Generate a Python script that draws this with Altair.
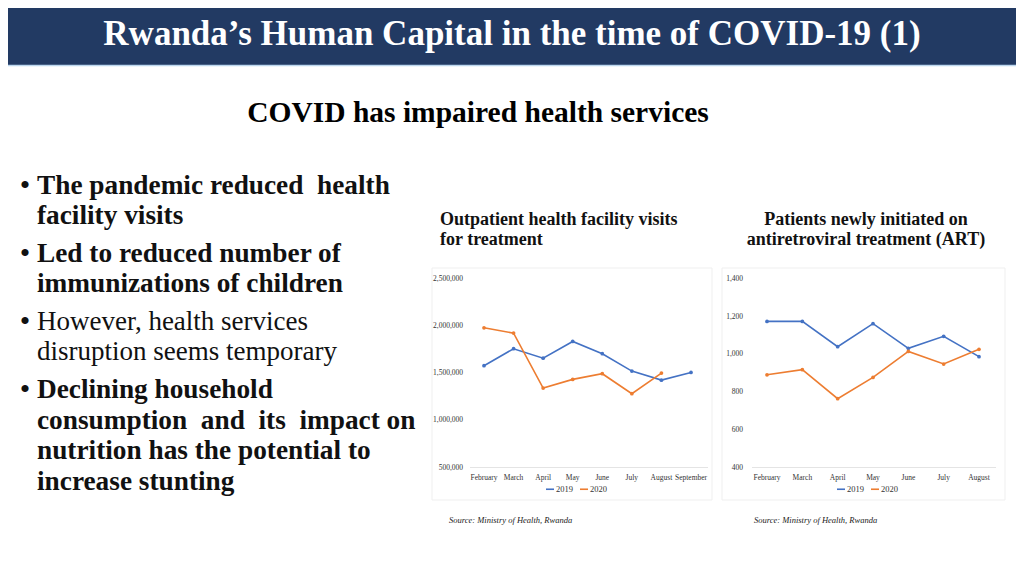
import altair as alt
import pandas as pd

# ---------------- data ----------------
months1 = ["February", "March", "April", "May", "June", "July", "August", "September"]
visits_2019 = [1580000, 1760000, 1660000, 1837000, 1707000, 1523000, 1427000, 1509000]
visits_2020 = [1982000, 1926000, 1343000, 1435000, 1495000, 1283000, 1502000]
visits_ticks = [500000, 1000000, 1500000, 2000000, 2500000]

months2 = ["February", "March", "April", "May", "June", "July", "August"]
art_2019 = [1175, 1175, 1041, 1163, 1032, 1096, 988]
art_2020 = [892, 919, 765, 878, 1016, 949, 1027]
art_ticks = [400, 600, 800, 1000, 1200, 1400]

years = ["2019", "2020"]
colors = ["#4472C4", "#ED7D31"]

title_text = "Rwanda\u2019s Human Capital in the time of COVID-19 (1)"
subtitle_text = "COVID has impaired health services"
bullet_text = [
    "The pandemic reduced\u00a0 health", "facility visits",
    "Led to reduced number of", "immunizations of children",
    "However, health services", "disruption seems temporary",
    "Declining household", "consumption\u00a0 and\u00a0 its\u00a0 impact on",
    "nutrition has the potential to", "increase stunting",
]
bullet_bold = [True, True, True, True, False, False, True, True, True, True]
bullet_first = [True, False, True, False, True, False, True, False, False, False]
chart1_title = ["Outpatient health facility visits", "for treatment"]
chart2_title = ["Patients newly initiated on", "antiretroviral treatment (ART)"]
source_text = "Source: Ministry of Health, Rwanda"

FONT = "Liberation Serif"
W, H = 1008, 560
bullet_y = [178, 208, 246, 276, 314, 344, 382, 413, 443, 474]


def txt(text, x, y, **kw):
    return alt.Chart(pd.DataFrame({"t": [text]})).mark_text(
        font=FONT, baseline="middle", **kw
    ).encode(text="t:N", x=alt.value(x), y=alt.value(y))


dummy = pd.DataFrame({"a": [0]})

# ---------------- decorations ----------------
deco = [
    alt.Chart(dummy).mark_rect(color="#223A63").encode(
        x=alt.value(0), x2=alt.value(W), y=alt.value(0), y2=alt.value(57)),
    alt.Chart(dummy).mark_rule(color="#BDD7EE", strokeWidth=1.5).encode(
        x=alt.value(0), x2=alt.value(W), y=alt.value(57.5)),
    txt(title_text, 504, 26, fontSize=35, fontWeight="bold", color="white", align="center"),
    txt(subtitle_text, 470, 105, fontSize=29.5, fontWeight="bold", color="black", align="center"),
]
for t, b, f, y in zip(bullet_text, bullet_bold, bullet_first, bullet_y):
    deco.append(txt(t, 29, y, fontSize=27.3 if b else 27, fontWeight="bold" if b else "normal",
                    color="#111111", align="left"))
    if f:
        deco.append(txt("\u2022", 17, y, fontSize=30, color="#111111", align="center"))
for i, t in enumerate(chart1_title):
    deco.append(txt(t, 432, 212 + 20 * i, fontSize=18, fontWeight="bold", color="#111111", align="left"))
for i, t in enumerate(chart2_title):
    deco.append(txt(t, 858, 212 + 20 * i, fontSize=18, fontWeight="bold", color="#111111", align="center"))
for x in (441, 746):
    deco.append(txt(source_text, x, 512, fontSize=8.5, fontStyle="italic", color="#222222", align="left"))
for x0, x1 in ((424, 704), (714, 997)):
    deco.append(alt.Chart(dummy).mark_rect(fill="white", stroke="#EFEFEF", strokeWidth=1).encode(
        x=alt.value(x0), x2=alt.value(x1), y=alt.value(260), y2=alt.value(492)))


# ---------------- charts ----------------
def line_panel(months, s19, s20, ticks, ydom, xr, label_x, base_x, legend_x):
    rows = [(m, v, "2019") for m, v in zip(months, s19)] + [(m, v, "2020") for m, v in zip(months, s20)]
    df = pd.DataFrame(rows, columns=["month", "value", "year"])
    xs = alt.Scale(type="point", domain=months, range=xr, padding=0)
    ys = alt.Scale(domain=ydom, range=[459.5, 271], zero=False, nice=False)
    lines = alt.Chart(df).mark_line(
        strokeWidth=1.6, point=alt.OverlayMarkDef(filled=True, size=14)
    ).encode(
        x=alt.X("month:N", scale=xs, axis=None, sort=months),
        y=alt.Y("value:Q", scale=ys, axis=None),
        color=alt.Color(
            "year:N",
            scale=alt.Scale(domain=years, range=colors),
            legend=alt.Legend(
                orient="none", legendX=legend_x, legendY=476, direction="horizontal", title=None,
                symbolType="stroke", symbolSize=64, symbolStrokeWidth=1.6,
                labelFont=FONT, labelFontSize=8.5, labelColor="#333333", columnPadding=3,
                labelOffset=1,
            ),
        ),
    )
    tdf = pd.DataFrame({"v": ticks, "lab": [format(t, ",") for t in ticks]})
    ylabels = alt.Chart(tdf).mark_text(
        font=FONT, fontSize=7.5, color="#333333", align="right", baseline="middle"
    ).encode(y=alt.Y("v:Q", scale=ys, axis=None), x=alt.value(label_x), text="lab:N")
    mdf = pd.DataFrame({"m": months})
    xlabels = alt.Chart(mdf).mark_text(
        font=FONT, fontSize=7.5, color="#333333", align="center", baseline="middle"
    ).encode(x=alt.X("m:N", scale=xs, axis=None, sort=months), y=alt.value(469.5), text="m:N")
    base = alt.Chart(pd.DataFrame({"v": [ydom[0]]})).mark_rule(color="#E4E4E4", strokeWidth=1).encode(
        x=alt.value(base_x[0]), x2=alt.value(base_x[1]), y=alt.Y("v:Q", scale=ys, axis=None)
    )
    return alt.layer(base, ylabels, xlabels, lines)


panel1 = line_panel(months1, visits_2019, visits_2020, visits_ticks, [500000, 2500000],
                    [476, 683], 455, (462, 700), 537)
panel2 = line_panel(months2, art_2019, art_2020, art_ticks, [400, 1400],
                    [759, 971], 735, (744, 988), 828)

chart = alt.layer(*deco, panel1, panel2).resolve_scale(
    x="independent", y="independent", color="independent"
).properties(
    width=W, height=H, padding=0, autosize="none", background="white"
).configure_view(strokeWidth=0)

chart.save("out.html", embed_options={"renderer": "svg", "actions": False})
